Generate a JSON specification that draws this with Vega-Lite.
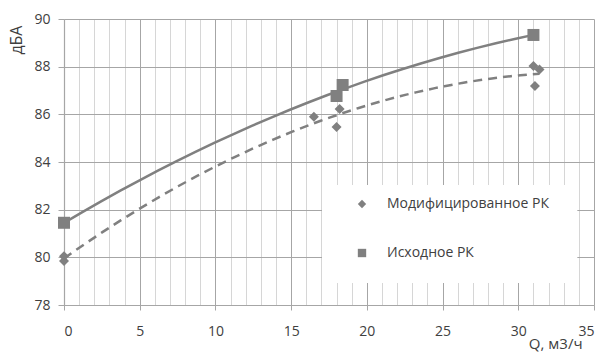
{
  "$schema": "https://vega.github.io/schema/vega-lite/v6.json",
  "width": 530,
  "height": 286,
  "autosize": {"type": "none"},
  "padding": {"left": 64, "top": 19, "right": 10, "bottom": 49},
  "background": "white",
  "config": {
    "font": "Open Sans",
    "view": {"stroke": null},
    "axis": {"labelFont": "Open Sans", "labelFontSize": 14, "labelColor": "#404040", "titleFont": "Open Sans", "titleFontSize": 15, "titleFontWeight": "normal", "titleColor": "#404040", "domainColor": "#a6a6a6", "domainWidth": 1.2}
  },
  "data": {
    "values": [
      {"series": "Исходное РК", "Q": 0, "dBA": 81.45},
      {"series": "Исходное РК", "Q": 18, "dBA": 86.77},
      {"series": "Исходное РК", "Q": 18.4, "dBA": 87.23},
      {"series": "Исходное РК", "Q": 31, "dBA": 89.33},
      {"series": "Модифицированное РК", "Q": 0, "dBA": 79.85},
      {"series": "Модифицированное РК", "Q": 0, "dBA": 80.05},
      {"series": "Модифицированное РК", "Q": 16.5, "dBA": 85.9},
      {"series": "Модифицированное РК", "Q": 18, "dBA": 85.47},
      {"series": "Модифицированное РК", "Q": 18.2, "dBA": 86.22},
      {"series": "Модифицированное РК", "Q": 31, "dBA": 88.03},
      {"series": "Модифицированное РК", "Q": 31.4, "dBA": 87.88},
      {"series": "Модифицированное РК", "Q": 31.1, "dBA": 87.19}
    ]
  },
  "layer": [
    {
      "mark": {"type": "rect", "fill": "white", "strokeWidth": 0},
      "encoding": {
        "x": {"datum": 17.04, "type": "quantitative", "scale": {"domain": [0, 35], "nice": false}, "axis": {"title": "Q, м3/ч", "values": [0,1,2,3,4,5,6,7,8,9,10,11,12,13,14,15,16,17,18,19,20,21,22,23,24,25,26,27,28,29,30,31,32,33,34,35], "labelExpr": "datum.value % 5 === 0 ? datum.label : ''", "gridColor": {"condition": {"test": "datum.value % 5 === 0", "value": "#a6a6a6"}, "value": "#d6d6d6"}, "tickColor": {"condition": {"test": "datum.value % 5 === 0", "value": "#a6a6a6"}, "value": "transparent"}, "tickSize": 5, "labelPadding": 14, "titleAlign": "right", "titleBaseline": "alphabetic", "titleX": 518, "titleY": 43, "grid": true}},
        "x2": {"datum": 33.88},
        "y": {"datum": 83.03, "type": "quantitative", "scale": {"domain": [78, 90], "nice": false}, "axis": {"title": "дБА", "values": [78,80,82,84,86,88,90], "gridColor": "#a6a6a6", "tickColor": "#a6a6a6", "tickSize": 6, "labelPadding": 8, "titleFontSize": 16, "titleAnchor": "end", "titleAlign": "right", "titleY": 6, "titlePadding": 9, "grid": true}},
        "y2": {"datum": 78.92}
      }
    },
    {
      "transform": [
        {"filter": "datum.series === 'Исходное РК'"},
        {"regression": "dBA", "on": "Q", "method": "poly", "order": 2}
      ],
      "mark": {"type": "line", "color": "#808080", "strokeWidth": 2.5},
      "encoding": {
        "x": {"field": "Q", "type": "quantitative", "scale": {"domain": [0, 35], "nice": false}, "axis": {"title": "Q, м3/ч", "values": [0,1,2,3,4,5,6,7,8,9,10,11,12,13,14,15,16,17,18,19,20,21,22,23,24,25,26,27,28,29,30,31,32,33,34,35], "labelExpr": "datum.value % 5 === 0 ? datum.label : ''", "gridColor": {"condition": {"test": "datum.value % 5 === 0", "value": "#a6a6a6"}, "value": "#d6d6d6"}, "tickColor": {"condition": {"test": "datum.value % 5 === 0", "value": "#a6a6a6"}, "value": "transparent"}, "tickSize": 5, "labelPadding": 14, "titleAlign": "right", "titleBaseline": "alphabetic", "titleX": 518, "titleY": 43, "grid": true}},
        "y": {"field": "dBA", "type": "quantitative", "scale": {"domain": [78, 90], "nice": false}, "axis": {"title": "дБА", "values": [78,80,82,84,86,88,90], "gridColor": "#a6a6a6", "tickColor": "#a6a6a6", "tickSize": 6, "labelPadding": 8, "titleFontSize": 16, "titleAnchor": "end", "titleAlign": "right", "titleY": 6, "titlePadding": 9, "grid": true}}
      }
    },
    {
      "transform": [
        {"filter": "datum.series === 'Модифицированное РК'"},
        {"regression": "dBA", "on": "Q", "method": "poly", "order": 2}
      ],
      "mark": {"type": "line", "color": "#808080", "strokeWidth": 2.5, "strokeDash": [9, 6]},
      "encoding": {
        "x": {"field": "Q", "type": "quantitative", "scale": {"domain": [0, 35], "nice": false}, "axis": {"title": "Q, м3/ч", "values": [0,1,2,3,4,5,6,7,8,9,10,11,12,13,14,15,16,17,18,19,20,21,22,23,24,25,26,27,28,29,30,31,32,33,34,35], "labelExpr": "datum.value % 5 === 0 ? datum.label : ''", "gridColor": {"condition": {"test": "datum.value % 5 === 0", "value": "#a6a6a6"}, "value": "#d6d6d6"}, "tickColor": {"condition": {"test": "datum.value % 5 === 0", "value": "#a6a6a6"}, "value": "transparent"}, "tickSize": 5, "labelPadding": 14, "titleAlign": "right", "titleBaseline": "alphabetic", "titleX": 518, "titleY": 43, "grid": true}},
        "y": {"field": "dBA", "type": "quantitative", "scale": {"domain": [78, 90], "nice": false}, "axis": {"title": "дБА", "values": [78,80,82,84,86,88,90], "gridColor": "#a6a6a6", "tickColor": "#a6a6a6", "tickSize": 6, "labelPadding": 8, "titleFontSize": 16, "titleAnchor": "end", "titleAlign": "right", "titleY": 6, "titlePadding": 9, "grid": true}}
      }
    },
    {
      "transform": [{"filter": "datum.series === 'Модифицированное РК'"}],
      "mark": {"type": "point", "filled": true, "opacity": 1, "color": "#808080", "size": 100},
      "encoding": {
        "x": {"field": "Q", "type": "quantitative", "scale": {"domain": [0, 35], "nice": false}, "axis": {"title": "Q, м3/ч", "values": [0,1,2,3,4,5,6,7,8,9,10,11,12,13,14,15,16,17,18,19,20,21,22,23,24,25,26,27,28,29,30,31,32,33,34,35], "labelExpr": "datum.value % 5 === 0 ? datum.label : ''", "gridColor": {"condition": {"test": "datum.value % 5 === 0", "value": "#a6a6a6"}, "value": "#d6d6d6"}, "tickColor": {"condition": {"test": "datum.value % 5 === 0", "value": "#a6a6a6"}, "value": "transparent"}, "tickSize": 5, "labelPadding": 14, "titleAlign": "right", "titleBaseline": "alphabetic", "titleX": 518, "titleY": 43, "grid": true}},
        "y": {"field": "dBA", "type": "quantitative", "scale": {"domain": [78, 90], "nice": false}, "axis": {"title": "дБА", "values": [78,80,82,84,86,88,90], "gridColor": "#a6a6a6", "tickColor": "#a6a6a6", "tickSize": 6, "labelPadding": 8, "titleFontSize": 16, "titleAnchor": "end", "titleAlign": "right", "titleY": 6, "titlePadding": 9, "grid": true}},
        "shape": {"field": "series", "type": "nominal", "scale": {"domain": ["Модифицированное РК", "Исходное РК"], "range": ["diamond", "square"]}, "legend": {"title": null, "orient": "none", "legendX": 291, "legendY": 178, "padding": 0, "symbolSize": 70, "symbolFillColor": "#808080", "symbolStrokeWidth": 0, "labelOffset": 18, "labelLimit": 300, "rowPadding": 35, "labelFont": "Open Sans", "labelFontSize": 14, "labelColor": "#404040"}}
      }
    },
    {
      "transform": [{"filter": "datum.series === 'Исходное РК'"}],
      "mark": {"type": "point", "filled": true, "opacity": 1, "color": "#808080", "size": 144},
      "encoding": {
        "x": {"field": "Q", "type": "quantitative", "scale": {"domain": [0, 35], "nice": false}, "axis": {"title": "Q, м3/ч", "values": [0,1,2,3,4,5,6,7,8,9,10,11,12,13,14,15,16,17,18,19,20,21,22,23,24,25,26,27,28,29,30,31,32,33,34,35], "labelExpr": "datum.value % 5 === 0 ? datum.label : ''", "gridColor": {"condition": {"test": "datum.value % 5 === 0", "value": "#a6a6a6"}, "value": "#d6d6d6"}, "tickColor": {"condition": {"test": "datum.value % 5 === 0", "value": "#a6a6a6"}, "value": "transparent"}, "tickSize": 5, "labelPadding": 14, "titleAlign": "right", "titleBaseline": "alphabetic", "titleX": 518, "titleY": 43, "grid": true}},
        "y": {"field": "dBA", "type": "quantitative", "scale": {"domain": [78, 90], "nice": false}, "axis": {"title": "дБА", "values": [78,80,82,84,86,88,90], "gridColor": "#a6a6a6", "tickColor": "#a6a6a6", "tickSize": 6, "labelPadding": 8, "titleFontSize": 16, "titleAnchor": "end", "titleAlign": "right", "titleY": 6, "titlePadding": 9, "grid": true}},
        "shape": {"field": "series", "type": "nominal", "scale": {"domain": ["Модифицированное РК", "Исходное РК"], "range": ["diamond", "square"]}, "legend": {"title": null, "orient": "none", "legendX": 291, "legendY": 178, "padding": 0, "symbolSize": 70, "symbolFillColor": "#808080", "symbolStrokeWidth": 0, "labelOffset": 18, "labelLimit": 300, "rowPadding": 35, "labelFont": "Open Sans", "labelFontSize": 14, "labelColor": "#404040"}}
      }
    }
  ]
}
